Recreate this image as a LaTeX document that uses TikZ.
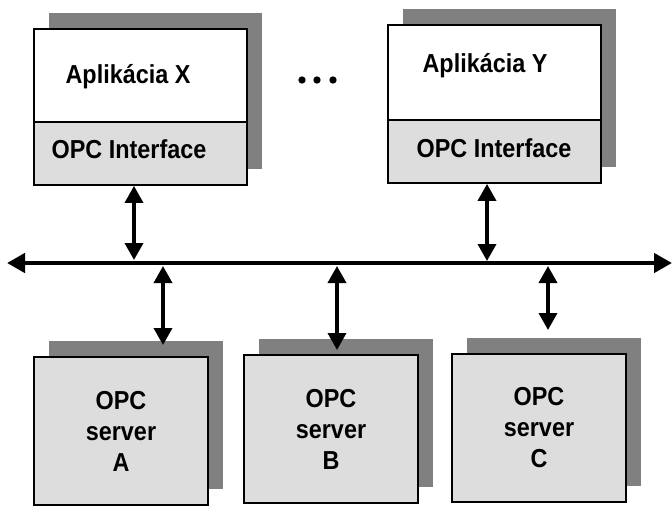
\documentclass[tikz,border=0pt]{standalone}
\usepackage{fontspec}
\setmainfont{Liberation Sans}[FakeStretch=0.9]
\usetikzlibrary{shadows,arrows.meta}

\definecolor{shade}{HTML}{808080}
\definecolor{panel}{HTML}{DDDDDD}

\begin{document}
\begin{tikzpicture}[x=1pt, y=-1pt,
    txt/.style={font=\bfseries\fontsize{26}{31}\selectfont, align=center, inner sep=0},
    box/.style={draw, line width=1.8pt, inner sep=0, fill=white,
        drop shadow={shadow xshift=15pt, shadow yshift=16pt, opacity=1, fill=shade}},
    iface/.style={draw, line width=1.8pt, fill=panel, minimum width=213pt, minimum height=63pt},
    server/.style={box, txt, fill=panel, minimum width=174pt, minimum height=148pt},
    link/.style={line width=3.5pt, {Triangle[length=17pt,width=18pt]}-{Triangle[length=17pt,width=18pt]}},
    dot/.style={circle, fill, inner sep=2.6pt}]
        \useasboundingbox (0,0) rectangle (672,506);
        % Applications
        \node[box, minimum width=213pt, minimum height=156pt] (appX) at (140.5,107) {};
        \node[iface] (ifX) at (140.5,153.5) {};
        \node[txt, anchor=base] (nameX) at (128,83) {Aplikácia X};
        \node[txt, anchor=base] (ifaceX) at (129,158) {OPC Interface};
        \node[box, minimum width=213pt, minimum height=158pt] (appY) at (494.5,104) {};
        \node[iface] (ifY) at (494.5,151.5) {};
        \node[txt, anchor=base] (nameY) at (485,72) {Aplikácia Y};
        \node[txt, anchor=base] (ifaceY) at (494,157) {OPC Interface};
        \foreach \x [count=\i] in {302,317,333} \node[dot] (dot\i) at (\x,80) {};
        % Servers
        \node[server] (srvA) at (121,431) {OPC\\server\\A};
        \node[server] (srvB) at (331,429) {OPC\\server\\B};
        \node[server] (srvC) at (539,428) {OPC\\server\\C};
        % Bus
        \coordinate (busL) at (7,263);
        \coordinate (busR) at (672,263);
        \draw[line width=4.5pt, {Triangle[length=18pt,width=19pt]}-{Triangle[length=18pt,width=19pt]}] (busL) -- (busR);
        % Connections
        \coordinate (busX) at (134,260);
        \coordinate (busY) at (487,261);
        \draw[link] (ifX.south -| busX) -- (busX);
        \draw[link] (ifY.south -| busY) -- (busY);
        \foreach \n/\x/\y in {A/163/345, B/337/350, C/548/330} {
            \coordinate (bus\n) at (\x,266);
            \coordinate (top\n) at (\x,\y);
            \draw[link] (bus\n) -- (top\n);
        }
\end{tikzpicture}
\end{document}
